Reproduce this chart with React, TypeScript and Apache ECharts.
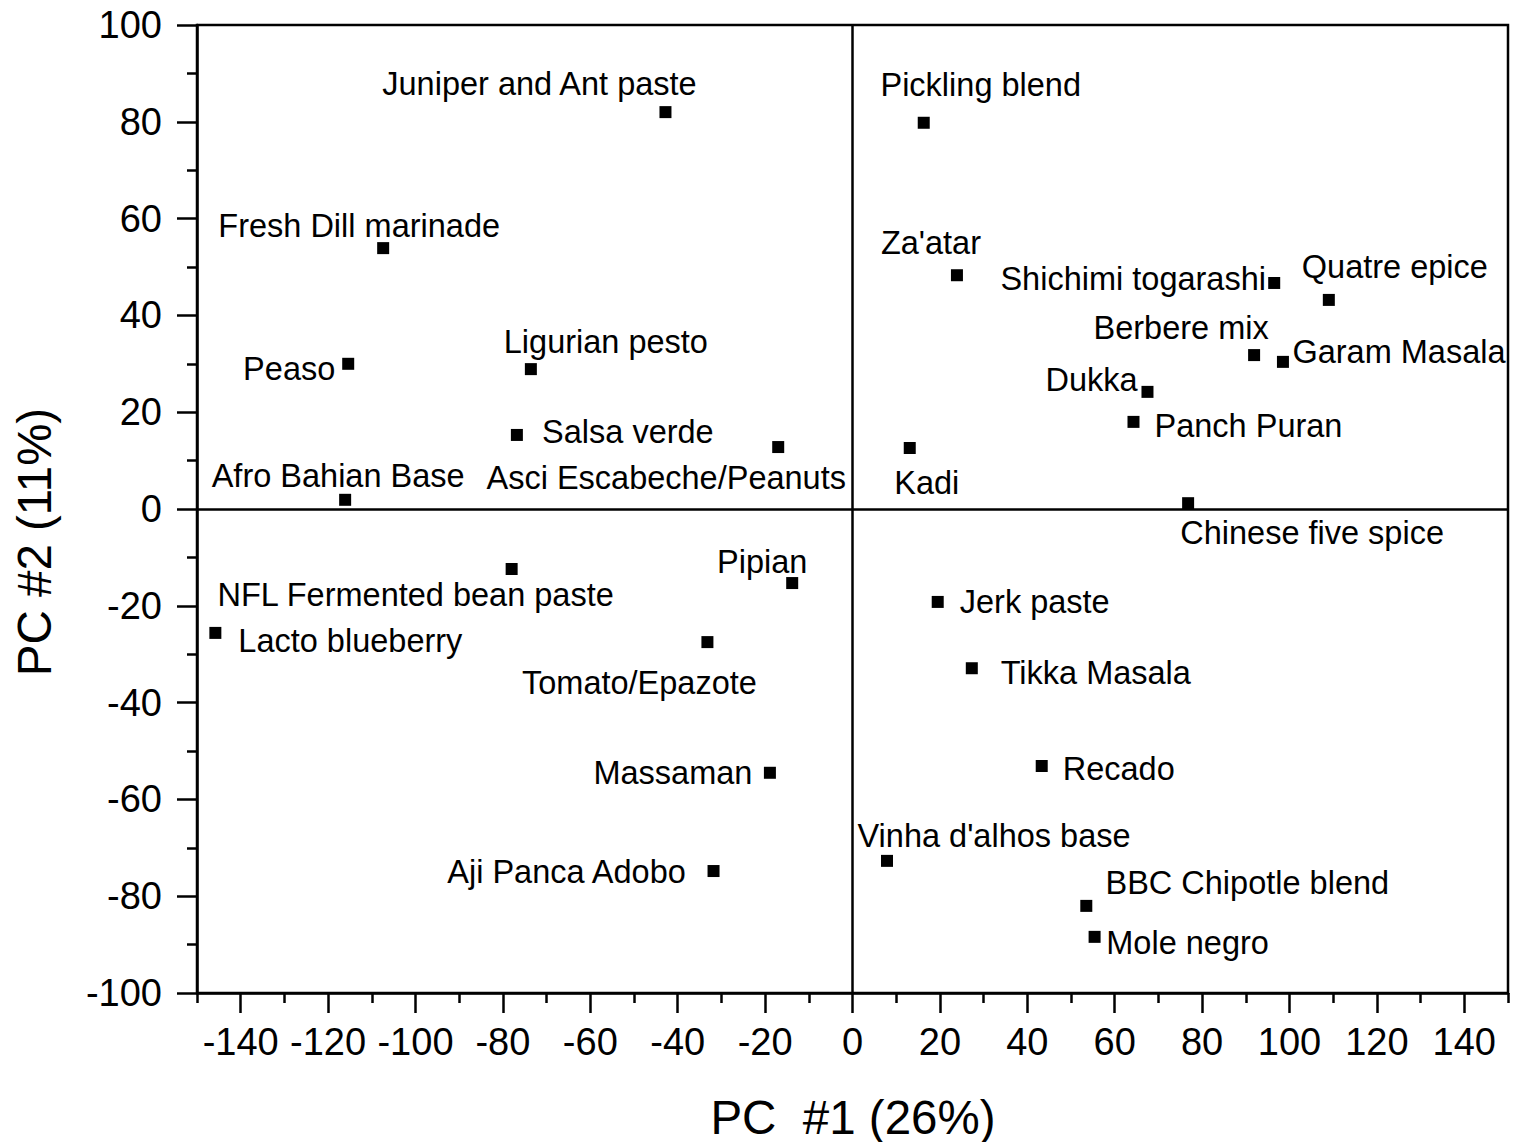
import React, { useEffect, useRef } from "react";
import * as echarts from "echarts";

const names = [
  "Juniper and Ant paste", "Pickling blend", "Fresh Dill marinade", "Za'atar",
  "Shichimi togarashi", "Quatre epice", "Peaso", "Ligurian pesto", "Berbere mix",
  "Garam Masala", "Dukka", "Panch Puran", "Salsa verde", "Asci Escabeche/Peanuts",
  "Kadi", "Afro Bahian Base", "Chinese five spice", "NFL Fermented bean paste",
  "Pipian", "Jerk paste", "Lacto blueberry", "Tomato/Epazote", "Tikka Masala",
  "Recado", "Massaman", "Vinha d'alhos base", "Aji Panca Adobo", "BBC Chipotle blend",
  "Mole negro",
];
const pc1 = [
  -42.8, 16.3, -107.4, 23.9, 96.5, 109.0, -115.4, -73.6, 91.9,
  98.5, 67.5, 64.3, -76.8, -17.0, 13.1, -116.1, 76.8, -78.0,
  -13.8, 19.5, -145.8, -33.2, 27.3, 43.3, -18.9, 7.9, -31.8, 53.5,
  55.4,
];
const pc2 = [
  82.0, 79.8, 53.9, 48.3, 46.7, 43.2, 30.0, 28.9, 31.8,
  30.4, 24.2, 18.0, 15.3, 12.8, 12.6, 1.9, 1.2, -12.4,
  -15.3, -19.2, -25.6, -27.5, -32.9, -53.1, -54.5, -72.7, -74.8, -82.0,
  -88.4,
];
// label placement (pixel offset of label centre from its marker)
const labelOffsets: [number, number][] = [
  [-126, -28], [57, -38], [-24, -22], [-26, -32], [-141, -4], [66, -33], [-59, 5],
  [75, -27], [-73, -27], [116, -10], [-56, -12], [115, 4], [111, -3], [-112, 31],
  [17, 35], [-7, -24], [124, 30], [-96, 26], [-30, -21], [97, 0], [135, 8],
  [-68, 41], [124, 5], [77, 3], [-97, 0], [107, -25], [-147, 1], [161, -23],
  [93, 6],
];
const xMajorTicks = [-140, -120, -100, -80, -60, -40, -20, 0, 20, 40, 60, 80, 100, 120, 140];
const xMinorTicks = [-150, -130, -110, -90, -70, -50, -30, -10, 10, 30, 50, 70, 90, 110, 130, 150];
const xTitle = "PC  #1 (26%)";
const yTitle = "PC #2 (11%)";

const FONT = '"Liberation Sans", Arial, sans-serif';

export default function App() {
  const ref = useRef<HTMLDivElement>(null);
  useEffect(() => {
    document.body.style.margin = "0";
    document.body.style.overflow = "hidden";
    const chart = echarts.init(ref.current!, null, { renderer: "svg" });
    const data = names.map((n, i) => ({
      name: n,
      value: [pc1[i], pc2[i]],
      label: { offset: labelOffsets[i] },
    }));
    chart.setOption({
      animation: false,
      backgroundColor: "#fff",
      grid: {
        left: 197, right: 8, top: 25, bottom: 149,
        show: true, borderColor: "#000", borderWidth: 2.5, backgroundColor: "transparent",
      },
      xAxis: [
        {
          type: "value", min: -150, max: 150,
          axisLine: { show: true, onZero: false, lineStyle: { color: "#000", width: 2.5 } },
          axisTick: { show: true, customValues: xMajorTicks, length: 20, lineStyle: { color: "#000", width: 2.5 } },
          axisLabel: { customValues: xMajorTicks, margin: 30, color: "#000", fontSize: 38, fontFamily: FONT },
          splitLine: { show: false },
        },
        {
          type: "value", min: -150, max: 150, position: "bottom",
          axisLine: { show: false, onZero: false },
          axisTick: { show: true, customValues: xMinorTicks, length: 10, lineStyle: { color: "#000", width: 2.5 } },
          axisLabel: { show: false },
          splitLine: { show: false },
        },
      ],
      yAxis: {
        type: "value", min: -100, max: 100, interval: 20,
        axisLine: { show: true, onZero: false, lineStyle: { color: "#000", width: 2.5 } },
        axisTick: { show: true, length: 20, lineStyle: { color: "#000", width: 2.5 } },
        minorTick: { show: true, splitNumber: 2, length: 10, lineStyle: { color: "#000", width: 2.5 } },
        axisLabel: { margin: 35, color: "#000", fontSize: 38, fontFamily: FONT },
        splitLine: { show: false },
      },
      series: [
        {
          type: "scatter",
          xAxisIndex: 0,
          symbol: "rect",
          symbolSize: 12,
          itemStyle: { color: "#000", opacity: 1 },
          label: {
            show: true,
            position: "inside",
            formatter: "{b}",
            color: "#000",
            fontSize: 32.5,
            fontFamily: FONT,
            align: "center",
            verticalAlign: "middle",
          },
          markLine: {
            silent: true,
            symbol: ["none", "none"],
            label: { show: false },
            lineStyle: { color: "#000", width: 2.5, type: "solid", opacity: 1 },
            data: [{ xAxis: 0 }, { yAxis: 0 }],
          },
          data,
        },
      ],
      graphic: [
        {
          type: "text",
          x: 853, y: 1117,
          style: {
            text: xTitle, fill: "#000", font: `47.5px ${FONT}`,
            align: "center", verticalAlign: "middle",
            textAlign: "center", textVerticalAlign: "middle",
          },
        },
        {
          type: "text",
          x: 34, y: 542, rotation: Math.PI / 2,
          style: {
            text: yTitle, fill: "#000", font: `47.5px ${FONT}`,
            align: "center", verticalAlign: "middle",
            textAlign: "center", textVerticalAlign: "middle",
          },
        },
      ],
    });
    return () => chart.dispose();
  }, []);
  return (
    <div
      ref={ref}
      style={{ position: "fixed", left: 0, top: 0, width: 1516, height: 1142 }}
    />
  );
}
